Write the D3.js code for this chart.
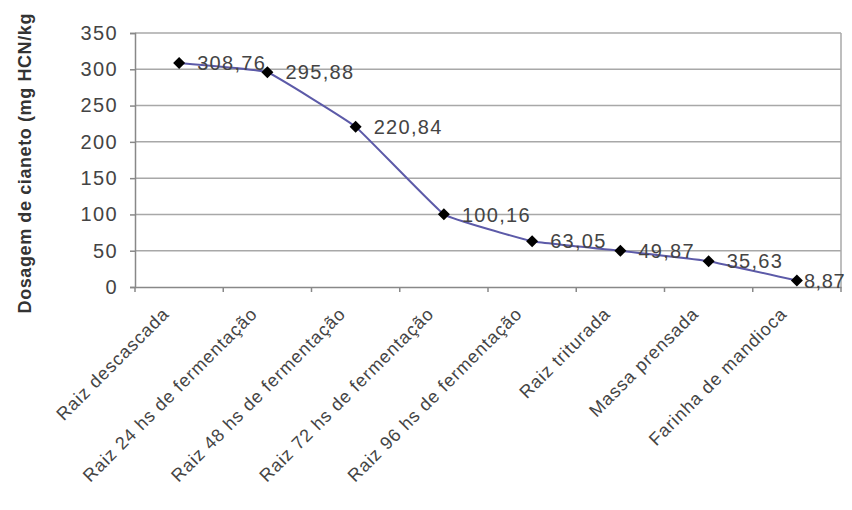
<!DOCTYPE html>
<html><head><meta charset="utf-8">
<script src="https://cdn.jsdelivr.net/npm/d3@7/dist/d3.min.js"></script>
<style>body{margin:0;background:#fff}svg{display:block}</style>
</head><body>
<svg id="c" width="852" height="510"></svg>
<script>
const categories = ["Raiz descascada","Raiz 24 hs de fermentação","Raiz 48 hs de fermentação","Raiz 72 hs de fermentação","Raiz 96 hs de fermentação","Raiz triturada","Massa prensada","Farinha de mandioca"];
const values = [308.76, 295.88, 220.84, 100.16, 63.05, 49.87, 35.63, 8.87];
const valueLabels = ["308,76","295,88","220,84","100,16","63,05","49,87","35,63","8,87"];
const yTicks = [0,50,100,150,200,250,300,350];
const yTitle = "Dosagem de cianeto (mg HCN/kg";

const svg = d3.select("#c");
const m = {l:135, r:841, t:33, b:287};
const x = d3.scaleBand().domain(categories).range([m.l, m.r]);
const y = d3.scaleLinear().domain([0,350]).range([m.b, m.t]);
const font = "'Liberation Sans', Arial, sans-serif";

// gridlines
svg.append("g").selectAll("line").data(yTicks.filter(d=>d>0)).join("line")
  .attr("x1", m.l).attr("x2", m.r).attr("y1", d=>y(d)).attr("y2", d=>y(d))
  .attr("stroke", "#a8a8a8").attr("stroke-width", 1.5);
// right border
svg.append("line").attr("x1", m.r).attr("x2", m.r).attr("y1", m.t).attr("y2", m.b)
  .attr("stroke", "#a8a8a8").attr("stroke-width", 1.5);

// y axis
const ya = svg.append("g").attr("transform", `translate(${m.l},0)`)
  .call(d3.axisLeft(y).tickValues(yTicks).tickSize(5).tickPadding(12));
ya.select(".domain").attr("stroke", "#888").attr("stroke-width", 1.5);
ya.selectAll(".tick line").attr("stroke", "#888").attr("stroke-width", 1.5);
ya.selectAll(".tick text").attr("font-family", font).attr("font-size", 20)
  .attr("letter-spacing", 1.4).attr("fill", "#444");

// x axis
const xa = svg.append("g").attr("transform", `translate(0,${m.b})`)
  .call(d3.axisBottom(x).tickSize(0).tickFormat(""));
xa.select(".domain").attr("stroke", "#888").attr("stroke-width", 1.5);
// category boundary ticks
const bounds = categories.map(c => x(c)).concat([m.r]);
svg.append("g").selectAll("line").data(bounds).join("line")
  .attr("x1", d=>d).attr("x2", d=>d).attr("y1", m.b).attr("y2", m.b+5)
  .attr("stroke", "#888").attr("stroke-width", 1.5);
// category labels
svg.append("g").selectAll("text").data(categories).join("text")
  .attr("transform", d => `translate(${x(d)+x.bandwidth()/2-9},${m.b+28}) rotate(-45)`)
  .attr("text-anchor", "end")
  .attr("font-family", font).attr("font-size", 18).attr("letter-spacing", 0.9)
  .attr("fill", "#444").text(d=>d);

// y title
svg.append("text")
  .attr("transform", `translate(31,13) rotate(-90)`)
  .attr("text-anchor", "end")
  .attr("font-family", font).attr("font-size", 18).attr("font-weight", "bold")
  .attr("letter-spacing", 0.6)
  .attr("fill", "#333").text(yTitle);

// line
const pts = categories.map((c,i)=>[x(c)+x.bandwidth()/2, y(values[i])]);
svg.append("path").attr("d", d3.line().curve(d3.curveCardinal.tension(0.75))(pts))
  .attr("fill", "none").attr("stroke", "#5c5aa8").attr("stroke-width", 2);

// markers
svg.append("g").selectAll("path").data(pts).join("path")
  .attr("transform", d=>`translate(${d[0]},${d[1]})`)
  .attr("d", "M0,-6L6,0L0,6L-6,0Z").attr("fill", "#000");

// data labels
svg.append("g").selectAll("text").data(pts).join("text")
  .attr("x", (d,i)=>d[0] + (i === pts.length-1 ? 7 : 18)).attr("y", d=>d[1]).attr("dy", "0.36em")
  .attr("font-family", font).attr("font-size", 20).attr("letter-spacing", (d,i)=> i === pts.length-1 ? 0.6 : 1.3)
  .attr("fill", "#444").text((d,i)=>valueLabels[i]);
</script>
</body></html>
